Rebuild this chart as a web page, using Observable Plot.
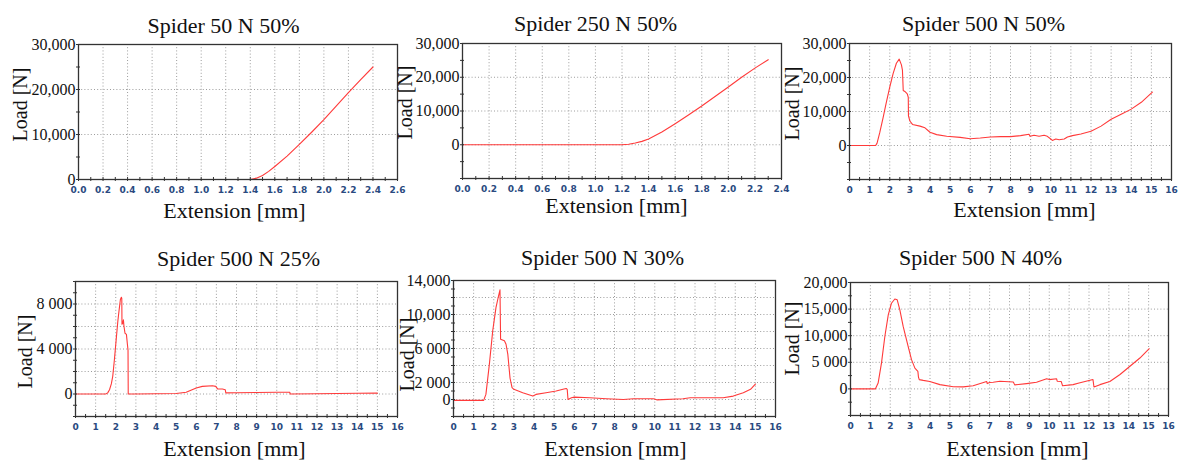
<!DOCTYPE html>
<html><head><meta charset="utf-8">
<script src="https://cdn.jsdelivr.net/npm/d3@7"></script>
<script src="https://cdn.jsdelivr.net/npm/@observablehq/plot@0.6"></script>
<style>
html,body{margin:0;padding:0;background:#fff;}
#chart{position:relative;width:1178px;height:461px;overflow:hidden;background:#fff;}
#chart > div{position:absolute;}
</style></head><body><div id="chart"></div>
<script>
// ---------- DATA ----------
const titles = ["Spider 50 N 50%", "Spider 250 N 50%", "Spider 500 N 50%", "Spider 500 N 25%", "Spider 500 N 30%", "Spider 500 N 40%"];
const xAxisLabel = "Extension [mm]";
const yAxisLabel = "Load [N]";

const ext50N50  = [0, 1.40, 1.45, 1.50, 1.55, 1.60, 1.70, 1.80, 1.90, 2.00, 2.10, 2.20, 2.30, 2.40];
const load50N50 = [0, 0, 300, 900, 1800, 2900, 5200, 7800, 10500, 13300, 16300, 19300, 22200, 25000];

const ext250N50  = [0, 1.20, 1.25, 1.30, 1.35, 1.40, 1.50, 1.60, 1.70, 1.80, 1.90, 2.00, 2.10, 2.20, 2.30];
const load250N50 = [0, 0, 150, 500, 1000, 1700, 3800, 6200, 8800, 11500, 14300, 17100, 20000, 22700, 25200];

const ext500N50  = [0, 1.30, 1.37, 1.50, 1.67, 1.83, 2.00, 2.17, 2.33, 2.47, 2.58, 2.63, 2.67, 2.75, 2.87, 2.92, 2.93, 3.00, 3.13, 3.50, 3.75, 4.00, 4.33, 4.83, 5.50, 6.00, 6.50, 7.00, 7.50, 8.00, 8.50, 8.92, 8.97, 9.17, 9.42, 9.67, 9.83, 10.00, 10.08, 10.25, 10.42, 10.67, 10.83, 11.08, 11.50, 12.00, 12.50, 13.00, 13.50, 14.00, 14.50, 15.05];
const load500N50 = [0, 0, 700, 3700, 8200, 12700, 17200, 21200, 24200, 25400, 23700, 22200, 16200, 15900, 15200, 14200, 8700, 7200, 6200, 5700, 5200, 3900, 3200, 2700, 2400, 2000, 2200, 2500, 2600, 2600, 2900, 3300, 2700, 3000, 2700, 3000, 2700, 1900, 1500, 1900, 1700, 1900, 2500, 2900, 3400, 4200, 5700, 7700, 9200, 10700, 12700, 15700];

const ext500N25  = [0, 1.50, 1.60, 1.69, 1.78, 1.85, 1.93, 2.02, 2.10, 2.15, 2.23, 2.28, 2.30, 2.31, 2.35, 2.38, 2.41, 2.46, 2.53, 2.58, 2.61, 2.62, 3.00, 4.00, 5.00, 5.50, 6.00, 6.30, 6.80, 6.97, 7.06, 7.30, 7.44, 7.47, 8.00, 9.00, 10.00, 10.65, 10.67, 12.00, 13.00, 14.00, 15.00];
const load500N25 = [0, 0, 100, 380, 900, 1570, 3000, 4800, 6400, 7200, 8400, 8600, 8500, 6200, 6300, 6600, 6000, 5400, 5300, 4400, 3900, 0, 0, 20, 50, 150, 530, 680, 740, 680, 450, 450, 380, 100, 110, 130, 150, 150, 0, 20, 40, 60, 80];

const ext500N30  = [0, 1.50, 1.61, 1.78, 1.95, 2.11, 2.22, 2.31, 2.34, 2.53, 2.61, 2.70, 2.81, 2.91, 3.00, 3.44, 3.94, 4.10, 4.60, 5.10, 5.44, 5.60, 5.65, 5.69, 5.86, 6.00, 6.77, 7.60, 8.44, 8.94, 9.93, 10.10, 11.40, 11.76, 13.40, 13.90, 14.40, 14.76, 15.00];
const load500N30 = [-100, -100, 600, 4100, 8100, 10800, 12000, 12900, 7100, 6900, 6500, 5300, 2500, 1400, 1200, 800, 400, 600, 800, 1000, 1200, 1300, 1200, 0, 200, 280, 200, 80, 0, 80, 80, -40, 80, 200, 200, 400, 800, 1200, 1800];

const ext500N40  = [0, 1.25, 1.39, 1.56, 1.73, 1.90, 2.06, 2.23, 2.35, 2.48, 2.65, 2.90, 3.07, 3.24, 3.39, 3.42, 3.46, 3.66, 3.99, 4.50, 5.17, 5.67, 6.17, 6.85, 6.88, 7.00, 7.18, 7.52, 8.19, 8.23, 8.27, 8.86, 9.36, 9.87, 10.00, 10.37, 10.40, 10.60, 10.67, 11.20, 11.50, 12.20, 12.25, 12.55, 13.05, 13.56, 14.06, 14.56, 15.03];
const load500N40 = [0, 0, 1100, 4900, 9900, 13900, 16100, 16900, 16750, 14900, 11750, 8000, 5500, 3900, 3300, 2200, 1750, 1600, 1400, 800, 400, 380, 600, 1400, 1000, 1200, 1250, 1450, 1300, 1000, 750, 1000, 1250, 1900, 1750, 1900, 1450, 1400, 600, 800, 1100, 1750, 350, 800, 1400, 2700, 4250, 5800, 7550];

// tick values and labels
const xTicksShort  = [0, 0.2, 0.4, 0.6, 0.8, 1.0, 1.2, 1.4, 1.6, 1.8, 2.0, 2.2, 2.4, 2.6];
const xTickLabelsShort = ["0.0","0.2","0.4","0.6","0.8","1.0","1.2","1.4","1.6","1.8","2.0","2.2","2.4","2.6"];
const xTicksLong   = [0,1,2,3,4,5,6,7,8,9,10,11,12,13,14,15,16];
const xTickLabelsLong = ["0","1","2","3","4","5","6","7","8","9","10","11","12","13","14","15","16"];

const yTicks30k = [0, 10000, 20000, 30000];
const yLabels30k = ["0", "10,000", "20,000", "30,000"];
const yTicks25 = [0, 4000, 8000];
const yLabels25 = ["0", "4 000", "8 000"];
const yTicks30 = [0, 2000, 6000, 10000, 14000];
const yLabels30 = ["0", "2 000", "6 000", "10,000", "14,000"];
const yTicks40 = [0, 5000, 10000, 15000, 20000];
const yLabels40 = ["0", "5 000", "10,000", "15,000", "20,000"];

// ---------- LAYOUT ----------
const SERIF = "'Liberation Serif', 'Times New Roman', serif";
const range = (a, b, s) => { const r = []; for (let i = 0; a + i * s <= b + 1e-9; i++) r.push(+(a + i * s).toFixed(6)); return r; };

const panels = [
  {cell:[0,0,410,230], frame:[78,397,44,179], xDomain:[0,2.6], yDomain:[0,30000],
   xGrid: xTicksShort, xMinor: range(0,2.6,0.1), xTicks: xTicksShort, xLabels: xTickLabelsShort,
   yGrid: range(0,30000,10000), yMinor: range(0,30000,5000), yTicks: yTicks30k, yLabels: yLabels30k,
   ext: ext50N50, load: load50N50, title: titles[0], tp:[223,32], xp:[234,217], yp:[20,104]},
  {cell:[390,0,400,230], frame:[462,781,43,178], xDomain:[0,2.4], yDomain:[-10000,30000],
   xGrid: xTicksShort.slice(0,13), xMinor: range(0,2.4,0.1), xTicks: xTicksShort.slice(0,13), xLabels: xTickLabelsShort.slice(0,13),
   yGrid: range(-10000,30000,10000), yMinor: range(-10000,30000,5000), yTicks: yTicks30k, yLabels: yLabels30k,
   ext: ext250N50, load: load250N50, title: titles[1], tp:[595,30], xp:[616,212], yp:[405,102]},
  {cell:[780,0,398,230], frame:[849,1171,43,179], xDomain:[0,16], yDomain:[-10000,30000],
   xGrid: xTicksLong, xMinor: range(0,16,0.5), xTicks: xTicksLong, xLabels: xTickLabelsLong,
   yGrid: range(-10000,30000,10000), yMinor: range(-10000,30000,5000), yTicks: yTicks30k, yLabels: yLabels30k,
   ext: ext500N50, load: load500N50, title: titles[2], tp:[983,30], xp:[1024,216], yp:[792,103]},
  {cell:[0,230,410,231], frame:[75,397,281,416], xDomain:[0,16], yDomain:[-2000,10000],
   xGrid: xTicksLong, xMinor: range(0,16,0.5), xTicks: xTicksLong, xLabels: xTickLabelsLong,
   yGrid: range(-2000,10000,2000), yMinor: range(-2000,10000,1000), yTicks: yTicks25, yLabels: yLabels25,
   ext: ext500N25, load: load500N25, title: titles[3], tp:[238,265], xp:[234,455], yp:[25,351]},
  {cell:[390,230,400,231], frame:[453,775,280,416], xDomain:[0,16], yDomain:[-2000,14000],
   xGrid: xTicksLong, xMinor: range(0,16,0.5), xTicks: xTicksLong, xLabels: xTickLabelsLong,
   yGrid: range(-2000,14000,2000), yMinor: range(-2000,14000,1000), yTicks: yTicks30, yLabels: yLabels30,
   ext: ext500N30, load: load500N30, title: titles[4], tp:[602,264], xp:[615,455], yp:[407,354]},
  {cell:[780,230,398,231], frame:[850,1168,282,415], xDomain:[0,16], yDomain:[-5000,20000],
   xGrid: xTicksLong, xMinor: range(0,16,0.5), xTicks: xTicksLong, xLabels: xTickLabelsLong,
   yGrid: range(-5000,20000,5000), yMinor: range(-5000,20000,2500), yTicks: yTicks40, yLabels: yLabels40,
   ext: ext500N40, load: load500N40, title: titles[5], tp:[980,264], xp:[1017,455], yp:[792,338]}
];

const chart = document.getElementById("chart");
for (const p of panels) {
  const [cl, ct, cw, ch] = p.cell;
  const [fx0, fx1, fy0, fy1] = p.frame;
  const data = p.ext.map((x, i) => ({x, y: p.load[i]}));
  const gridStyle = {stroke: "#9c9c9c", strokeOpacity: 1, strokeWidth: 1, strokeDasharray: "1,2.2"};
  const svg = Plot.plot({
    width: cw, height: ch,
    marginLeft: fx0 - cl, marginRight: cl + cw - fx1, marginTop: fy0 - ct, marginBottom: ct + ch - fy1,
    style: {background: "transparent", overflow: "visible", fontFamily: SERIF, color: "#111"},
    x: {domain: p.xDomain},
    y: {domain: p.yDomain},
    marks: [
      Plot.gridX(p.xGrid, gridStyle),
      Plot.gridY(p.yGrid, gridStyle),
      Plot.line(data, {x: "x", y: "y", stroke: "#ff3a3a", strokeWidth: 1.1}),
      Plot.frame({stroke: "#333", strokeWidth: 1.3}),
      Plot.axisX(p.xMinor, {tickSize: 4, dy: -2, text: null, label: null, stroke: "#333"}),
      Plot.axisX(p.xTicks, {tickSize: 0, tickPadding: 7, label: null,
        tickFormat: d => p.xLabels[p.xTicks.indexOf(d)],
        fontFamily: "'DejaVu Sans', Verdana, sans-serif", fontSize: 9, fontWeight: "bold", fill: "#2a4a80"}),
      Plot.axisY(p.yMinor, {tickSize: 4, dx: 2, text: null, label: null, stroke: "#333"}),
      Plot.axisY(p.yTicks, {tickSize: 0, tickPadding: 3, label: null,
        tickFormat: d => p.yLabels[p.yTicks.indexOf(d)],
        fontFamily: SERIF, fontSize: 16, fill: "#111"}),
      Plot.text([p.title], {text: d => d, frameAnchor: "top-left", dx: p.tp[0] - fx0, dy: p.tp[1] - fy0,
        textAnchor: "middle", lineAnchor: "bottom", fontSize: 22, fontFamily: SERIF, fill: "#111"}),
      Plot.text([xAxisLabel], {text: d => d, frameAnchor: "top-left", dx: p.xp[0] - fx0, dy: p.xp[1] - fy0,
        textAnchor: "middle", lineAnchor: "bottom", fontSize: 22, fontFamily: SERIF, fill: "#111"}),
      Plot.text([yAxisLabel], {text: d => d, frameAnchor: "top-left", dx: p.yp[0] - fx0, dy: p.yp[1] - fy0,
        textAnchor: "middle", lineAnchor: "middle", rotate: -90, fontSize: 20, fontFamily: SERIF, fill: "#111"})
    ]
  });
  const holder = document.createElement("div");
  holder.style.left = cl + "px";
  holder.style.top = ct + "px";
  holder.appendChild(svg);
  chart.appendChild(holder);
}
</script>
</body></html>
